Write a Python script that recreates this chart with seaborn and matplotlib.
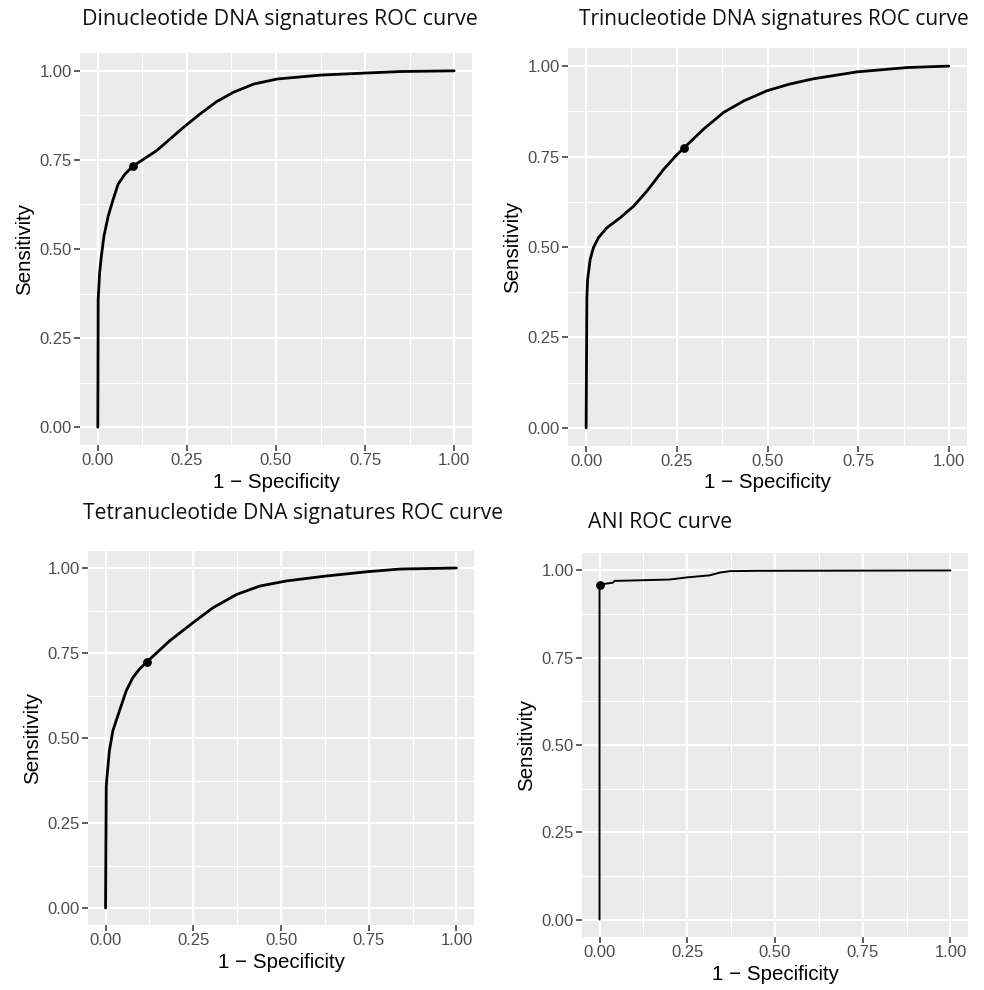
import numpy as np
import pandas as pd
import matplotlib
matplotlib.use("Agg")
import matplotlib.pyplot as plt
import seaborn as sns

# ---------------- data ----------------
di_fpr = [0.0, 0.001, 0.005, 0.010, 0.017, 0.029, 0.043, 0.057, 0.076, 0.098, 0.165,
          0.240, 0.287, 0.334, 0.381, 0.438, 0.503, 0.625, 0.756, 0.850, 1.0]
di_tpr = [0.0, 0.358, 0.433, 0.480, 0.535, 0.592, 0.639, 0.682, 0.710, 0.732, 0.776,
          0.841, 0.879, 0.914, 0.940, 0.963, 0.977, 0.988, 0.994, 0.998, 1.0]
di_best = (0.098, 0.732)

tri_fpr = [0.0, 0.002, 0.004, 0.011, 0.020, 0.034, 0.057, 0.094, 0.131, 0.168, 0.214,
           0.251, 0.271, 0.324, 0.379, 0.435, 0.499, 0.560, 0.627, 0.747, 0.885, 1.0]
tri_tpr = [0.0, 0.360, 0.410, 0.465, 0.498, 0.526, 0.553, 0.581, 0.613, 0.655, 0.715,
           0.756, 0.775, 0.826, 0.872, 0.904, 0.932, 0.950, 0.965, 0.984, 0.996, 1.0]
tri_best = (0.271, 0.775)

tetra_fpr = [0.0, 0.002, 0.004, 0.011, 0.021, 0.040, 0.059, 0.078, 0.097, 0.119, 0.183,
             0.249, 0.306, 0.373, 0.440, 0.516, 0.625, 0.745, 0.840, 1.0]
tetra_tpr = [0.0, 0.357, 0.385, 0.463, 0.522, 0.581, 0.639, 0.678, 0.703, 0.725, 0.786,
             0.839, 0.883, 0.922, 0.947, 0.962, 0.976, 0.989, 0.997, 1.0]
tetra_best = (0.119, 0.725)

ani_fpr = [0.0, 0.0, 0.003, 0.038, 0.043, 0.200, 0.248, 0.314, 0.343, 0.371, 0.447, 1.0]
ani_tpr = [0.0, 0.959, 0.960, 0.965, 0.970, 0.974, 0.980, 0.986, 0.994, 0.998, 0.999, 1.0]
ani_best = (0.0, 0.959)

titles = ["Dinucleotide DNA signatures ROC curve",
          "Trinucleotide DNA signatures ROC curve",
          "Tetranucleotide DNA signatures ROC curve",
          "ANI ROC curve"]
tick_vals = [0.0, 0.25, 0.5, 0.75, 1.0]
tick_labels = ["0.00", "0.25", "0.50", "0.75", "1.00"]
x_label = "1 \u2212 Specificity"
y_label = "Sensitivity"

# ---------------- layout ----------------
W, H = 984, 990
sns.set_theme(style="darkgrid")
plt.rcParams["font.family"] = ["Liberation Sans", "DejaVu Sans"]
fig = plt.figure(figsize=(W / 100, H / 100), dpi=100)
fig.patch.set_facecolor("white")

# panel rectangles in pixels: left, top, right, bottom
rects = [(80, 53, 472, 445), (568, 48, 967, 446), (88, 551, 474, 925), (582, 553, 968, 937)]
# title positions: left x, centre y, target width
title_pos = [(82, 20, 396), (579, 19, 393), (83, 513, 422), (588, 523, 145)]
line_w = [2.0, 2.0, 2.0, 1.4]

series = [(di_fpr, di_tpr, di_best), (tri_fpr, tri_tpr, tri_best),
          (tetra_fpr, tetra_tpr, tetra_best), (ani_fpr, ani_tpr, ani_best)]

for i, ((fx, ty, best), (l, t, r, b)) in enumerate(zip(series, rects)):
    ax = fig.add_axes([l / W, (H - b) / H, (r - l) / W, (b - t) / H])
    ax.set_facecolor("#EBEBEB")
    df = pd.DataFrame({"fpr": fx, "tpr": ty})
    sns.lineplot(data=df, x="fpr", y="tpr", ax=ax, color="black", lw=line_w[i],
                 estimator=None, sort=False, solid_joinstyle="round",
                 solid_capstyle="round")
    sns.scatterplot(x=[best[0]], y=[best[1]], ax=ax, color="black", s=40,
                    edgecolor="black", linewidth=0, zorder=5)
    ax.set_xlim(-0.05, 1.05)
    ax.set_ylim(-0.05, 1.05)
    ax.set_xticks(tick_vals)
    ax.set_xticklabels(tick_labels)
    ax.set_yticks(tick_vals)
    ax.set_yticklabels(tick_labels)
    ax.set_xticks([0.125, 0.375, 0.625, 0.875], minor=True)
    ax.set_yticks([0.125, 0.375, 0.625, 0.875], minor=True)
    ax.grid(which="major", color="white", lw=1.6)
    ax.grid(which="minor", color="white", lw=0.8)
    ax.tick_params(which="major", length=4, width=1.1, color="#333333",
                   labelsize=12, labelcolor="#4D4D4D", pad=2,
                   bottom=True, left=True)
    ax.tick_params(which="minor", length=0)
    for s in ax.spines.values():
        s.set_visible(False)
    ax.set_xlabel(x_label, fontsize=14.8, color="black", labelpad=3)
    ax.set_ylabel(y_label, fontsize=14.8, color="black", labelpad=4)

# titles (Calibri-like look), fitted to width
renderer = fig.canvas.get_renderer()
for (tx, ty, tw), txt in zip(title_pos, titles):
    t = fig.text(tx / W, 1 - ty / H, txt, fontsize=14, family=["Open Sans", "DejaVu Sans"],
                 color="#111111", ha="left", va="center")
    ext = t.get_window_extent(renderer=renderer)
    t.set_fontsize(14 * tw / ext.width)

fig.savefig("out.png", dpi=100, facecolor="white")
